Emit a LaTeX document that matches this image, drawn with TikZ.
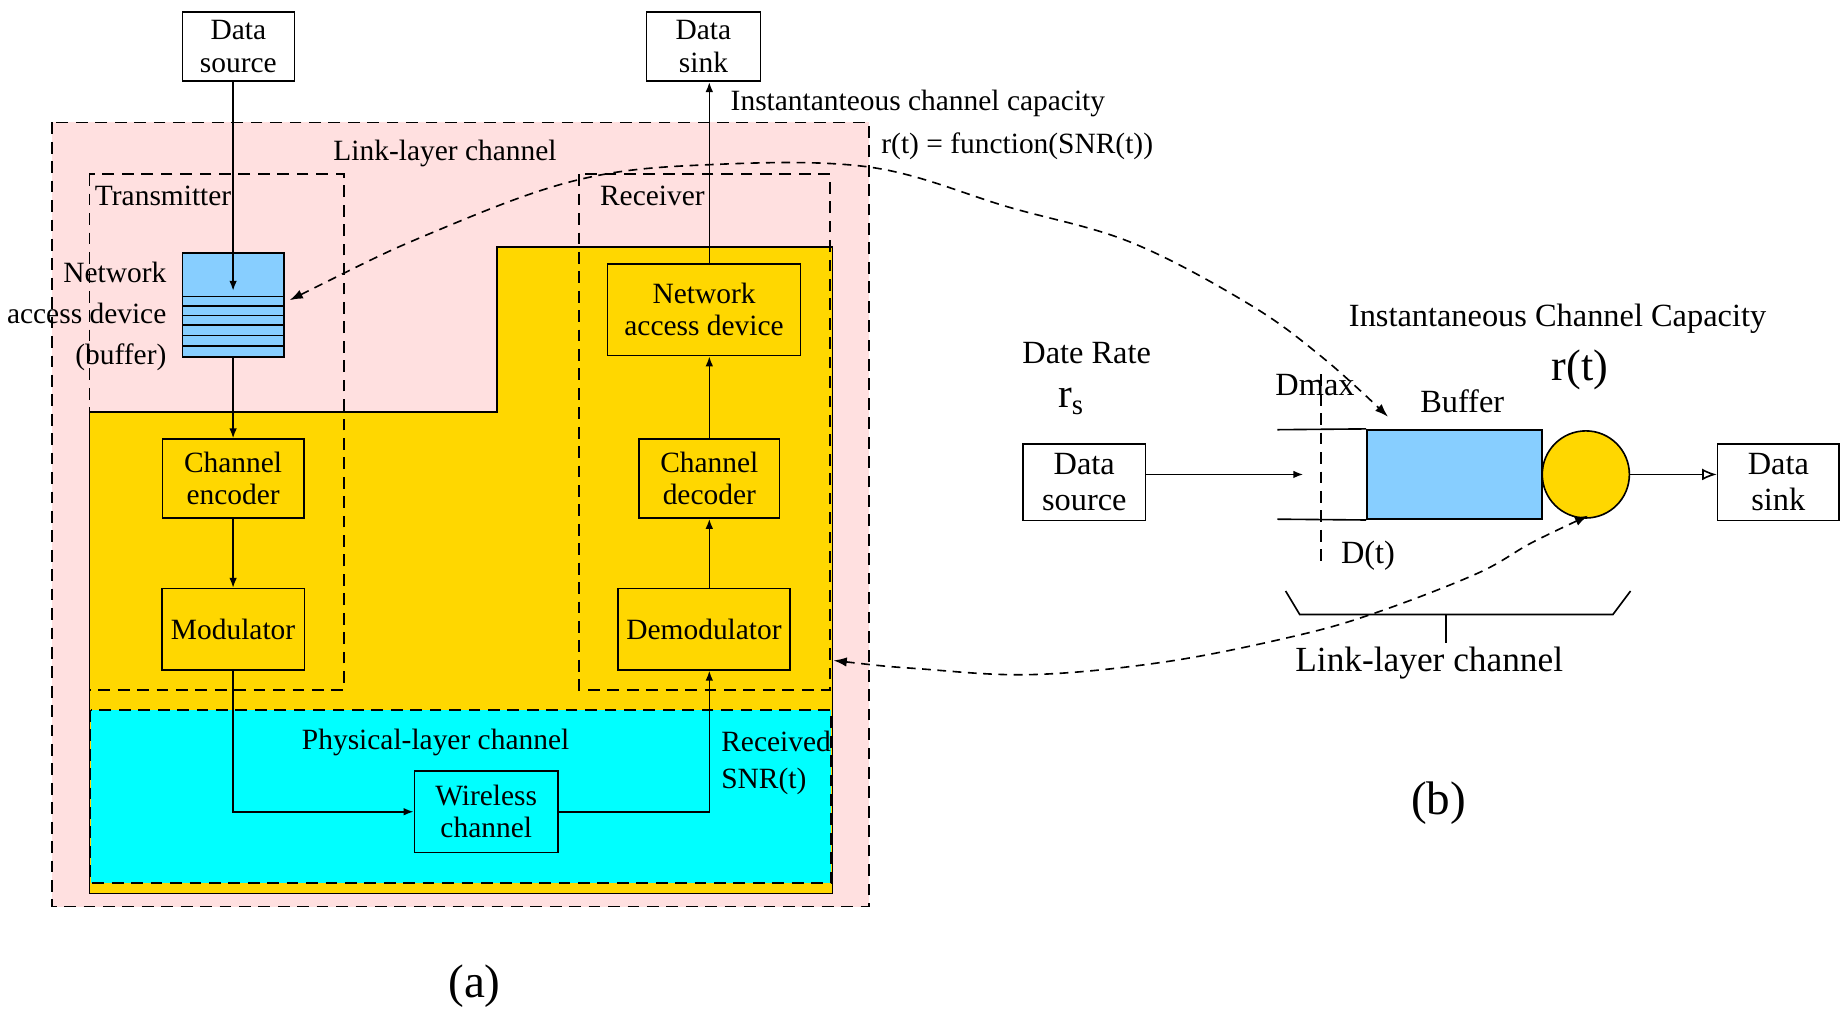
\documentclass[tikz,border=0pt]{standalone}
\usepackage{fontspec}
\setmainfont{Liberation Serif}
\usetikzlibrary{arrows.meta}
\definecolor{linkpink}{HTML}{FFE0E0}
\definecolor{gold}{HTML}{FFD700}
\definecolor{phycyan}{HTML}{00FFFF}
\definecolor{ltblue}{HTML}{87CEFF}
\tikzset{ctip/.tip={Latex[length=4.5pt,width=3.2pt]}}
\begin{document}
\begin{tikzpicture}[x=0.4pt,y=-0.4pt,line width=0.55pt,
  box/.style={draw,inner sep=0pt,align=center,font=\fontsize{10}{11}\selectfont},
  boxb/.style={draw,inner sep=0pt,align=center,font=\fontsize{11}{12.4}\selectfont},
  lbl/.style={inner sep=0pt,font=\fontsize{10}{12}\selectfont},
  lblb/.style={inner sep=0pt,font=\fontsize{11}{13}\selectfont},
  big/.style={inner sep=0pt,font=\fontsize{15}{15}\selectfont},
  dsh/.style={dash pattern=on 4pt off 2.6pt},
  dshc/.style={dash pattern=on 3pt off 2.2pt},
  arr/.style={-{Latex[length=3.4pt,width=2.6pt]}}]
\useasboundingbox (0,0) rectangle (1568,858);

% ---- (a) link-layer channel ----
\path[fill=linkpink] (44,104) rectangle (738,770);
\draw[fill=gold] (76,350) -- (422,350) -- (422,210) -- (707,210) -- (707,759) -- (76,759) -- cycle;
\draw[fill=phycyan,dsh] (77,603) rectangle (706,750);
\draw[dsh] (44,104) rectangle (738,770);
\draw[dsh] (76,148) rectangle (292,586);
\draw[dsh] (492,148) rectangle (705,586);

\node[lbl] (llc) at (378,130) {Link-layer channel};
\node[lbl,anchor=west] (tx) at (80,166) {Transmitter};
\node[lbl,anchor=west] (rx) at (509,166) {Receiver};
\node[lbl,align=right,anchor=east,font=\fontsize{10}{14}\selectfont] (nadlbl) at (142,269) {Network\\access device\\(buffer)};
\node[lbl] (phy) at (370,631) {Physical-layer channel};
\node[lbl,align=left,anchor=west,font=\fontsize{10}{12.8}\selectfont] (snr) at (612,648) {Received\\SNR(t)};
\node[lbl,anchor=west] (icc) at (620,88) {Instantanteous channel capacity};
\node[lbl,anchor=west] (rfn) at (748,124) {r(t) = function(SNR(t))};

\node[box,minimum width=38pt,minimum height=23.6pt] (src) at (202.5,39.5) {Data\\source};
\node[box,minimum width=38.8pt,minimum height=23.6pt] (snk) at (597.5,39.5) {Data\\sink};
\node[draw,fill=ltblue,inner sep=0pt,minimum width=34.4pt,minimum height=35.2pt] (buf) at (198,259) {};
\foreach \yy in {252,260,268,276,285,294} \draw (155,\yy) -- (241,\yy);
\node[box,minimum width=48pt,minimum height=26.8pt] (enc) at (198,406.5) {Channel\\encoder};
\node[box,minimum width=48.4pt,minimum height=27.6pt] (mod) at (198,534.5) {Modulator};
\node[box,minimum width=48.8pt,minimum height=27.6pt] (wls) at (413,689.5) {Wireless\\channel};
\node[box,minimum width=58.4pt,minimum height=27.6pt] (dem) at (598,534.5) {Demodulator};
\node[box,minimum width=47.6pt,minimum height=26.8pt] (dec) at (602.5,406.5) {Channel\\decoder};
\node[box,minimum width=65.6pt,minimum height=31.2pt] (nad) at (598,263) {Network\\access device};

\coordinate (bufin) at (198,247);
\draw[arr] (src.south -| bufin) -- (bufin);
\draw[arr] (buf.south) -- (enc.north);
\draw[arr] (enc.south) -- (mod.north);
\draw[arr] (mod.south) |- (wls.west);
\draw[arr] (wls.east) -| (dem.south -| dec.north);
\draw[arr] (dem.north -| dec.south) -- (dec.south);
\draw[arr] (dec.north) -- (nad.south -| dec.north);
\draw[arr] (nad.north -| dec.north) -- (snk.south -| dec.north);

\node[inner sep=0pt,font=\fontsize{16}{16}\selectfont] (capa) at (403,838) {(a)};

% ---- (b) queue model ----
\node[lblb] (drate) at (923,300) {Date Rate};
\node[inner sep=0pt,font=\fontsize{14}{14}\selectfont] (rs) at (910,341) {r\textsubscript{s}};
\node[lblb] (iccb) at (1323,271) {Instantaneous Channel Capacity};
\node[big] (rt) at (1342,314) {r(t)};
\node[lblb] (dmax) at (1117,327) {Dmax};
\node[lblb] (bufl) at (1242,341) {Buffer};
\node[lblb] (dt) at (1162,472) {D(t)};

\node[boxb,minimum width=41.6pt,minimum height=26pt] (src2) at (921,409.5) {Data\\source};
\node[boxb,minimum width=41.2pt,minimum height=26pt] (snk2) at (1510.5,409.5) {Data\\sink};
\node[draw,fill=ltblue,inner sep=0pt,minimum width=59.6pt,minimum height=30.4pt] (qbuf) at (1235.5,403) {};
\node[draw,circle,fill=gold,inner sep=0pt,minimum size=29.6pt] (srv) at (1347,403) {};
\draw (1085,365) -- (qbuf.north west);
\draw (1085,441) -- (qbuf.south west);
\draw[dsh] (1122,318) -- (1122,480);

\coordinate (dtip) at (1107,403);
\draw[arr] (src2.east |- srv) -- (dtip);
\draw[-{Latex[open,length=5pt,width=4pt]}] (srv.east) -- (snk2.west |- srv.east);

\draw (1092,502) -- (1104,522) -- (1370,522) -- (1385,502);
\draw (1228,522) -- (1228,546);
\node[inner sep=0pt,font=\fontsize{12}{12}\selectfont] (llcb) at (1214,563) {Link-layer channel};
\node[inner sep=0pt,font=\fontsize{16}{16}\selectfont] (capb) at (1222,682) {(b)};

% ---- capacity feedback curves ----
\coordinate (ta) at (246,255);
\coordinate (tb) at (1179,354);
\draw[dshc,ctip-ctip] plot[smooth,tension=0.6] coordinates
  {(ta) (371,196) (490,153) (600,140) (739,142) (857,176) (961,206) (1062,259) (1125,305) (tb)};
\coordinate (ya) at (708,561);
\coordinate (sb) at (1349,438);
\draw[dshc,ctip-ctip] plot[smooth,tension=0.6] coordinates
  {(ya) (780,568) (877,573) (991,562) (1101,540) (1170,520) (1255,487) (1301,461) (sb)};
\end{tikzpicture}
\end{document}
